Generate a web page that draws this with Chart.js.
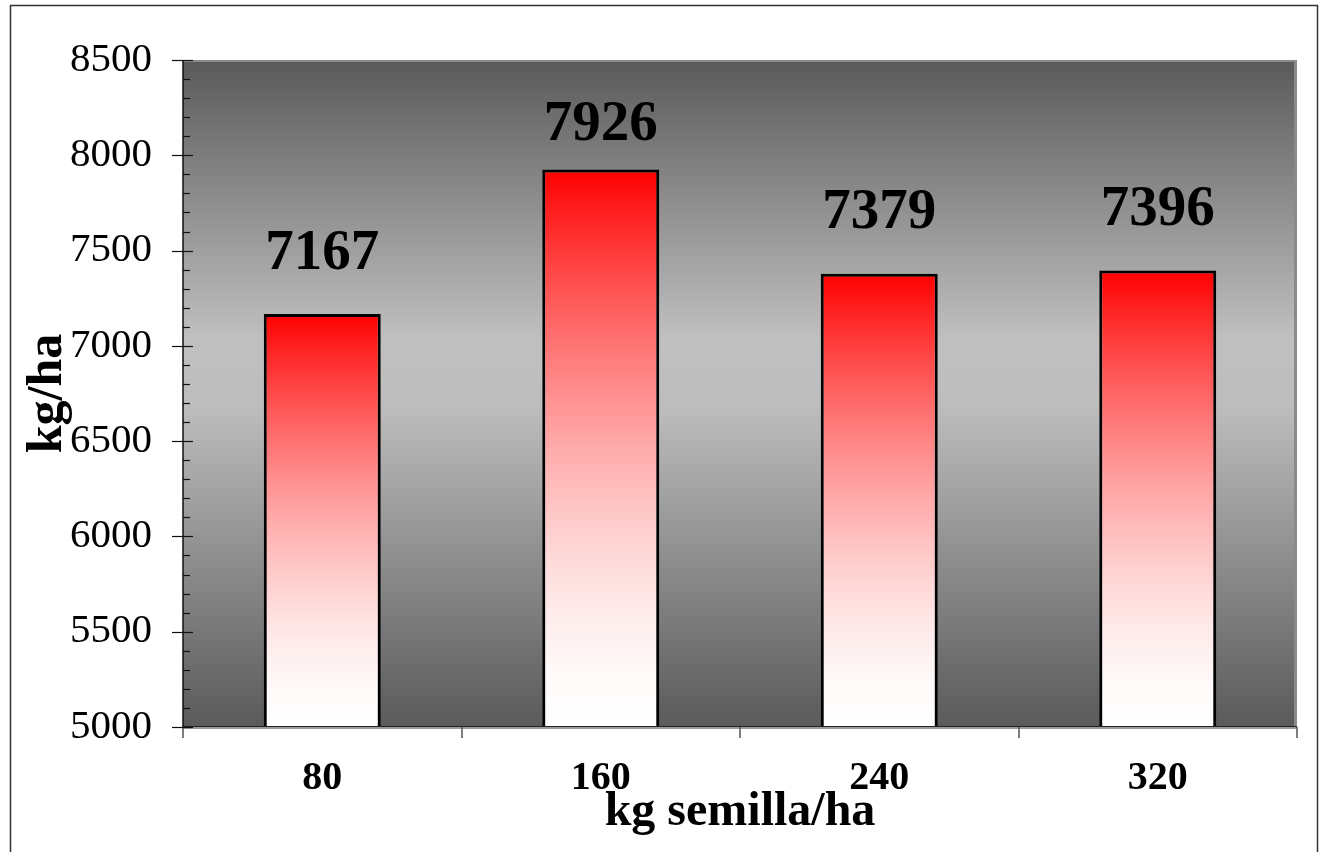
<!DOCTYPE html>
<html>
<head>
<meta charset="utf-8">
<style>
  html, body { margin: 0; padding: 0; background: #ffffff; }
  #wrap { width: 1319px; height: 852px; }
</style>
<script src="https://cdn.jsdelivr.net/npm/chart.js@4.4.1/dist/chart.umd.min.js"></script>
</head>
<body>
<div id="wrap"><canvas id="chart" width="1319" height="852"></canvas></div>
<script>
// Grain yield by seeding rate
const categories = ['80', '160', '240', '320'];
const yieldValues = [7167, 7926, 7379, 7396];
const yMin = 5000;
const yMax = 8500;
const yMajorStep = 500;
const yMinorStep = 100;
const xTitleText = 'kg semilla/ha';
const yTitleText = 'kg/ha';

const SERIF = '"Liberation Serif", "Times New Roman", serif';

// Red-to-white vertical fill for each bar, spanning the bar's own height;
// the red fades quickly, so the lower part of each bar is nearly white
function barFill(ctx) {
  const chart = ctx.chart;
  if (!chart.chartArea || ctx.type !== 'data') return '#ff0000';
  const ys = chart.scales.y;
  const top = ys.getPixelForValue(ctx.raw);
  const bottom = ys.getPixelForValue(ys.min);
  const g = chart.ctx.createLinearGradient(0, top, 0, bottom);
  for (let s = 0; s <= 10; s++) {
    const t = s / 10;
    const c = Math.round(255 * (1 - Math.pow(1 - t, 1.6)));
    g.addColorStop(t, `rgb(255,${c},${c})`);
  }
  return g;
}

// Page frame and shaded plot area behind everything
const backdrop = {
  id: 'backdrop',
  beforeDraw(chart) {
    const { ctx, chartArea: a, width, height } = chart;
    ctx.save();
    ctx.fillStyle = '#ffffff';
    ctx.fillRect(0, 0, width, height);
    ctx.strokeStyle = '#333333';
    ctx.lineWidth = 1.5;
    ctx.strokeRect(10.5, 5.5, width - 12, height + 20);
    const g = ctx.createLinearGradient(0, a.top, 0, a.bottom);
    g.addColorStop(0, '#5a5a5a');
    g.addColorStop(0.42, '#c0c0c0');
    g.addColorStop(0.52, '#bdbdbd');
    g.addColorStop(1, '#5a5a5a');
    ctx.fillStyle = g;
    ctx.fillRect(a.left, a.top, a.right - a.left, a.bottom - a.top);
    ctx.restore();
  }
};

// Axis lines, tick marks and the value labels above the bars
const axesAndLabels = {
  id: 'axesAndLabels',
  afterDatasetsDraw(chart) {
    const { ctx, chartArea: a } = chart;
    const xs = chart.scales.x;
    const ys = chart.scales.y;
    ctx.save();

    // plot border (top and right)
    ctx.strokeStyle = '#8a8a8a';
    ctx.lineWidth = 2;
    ctx.beginPath();
    ctx.moveTo(a.left, a.top + 1);
    ctx.lineTo(a.right - 1, a.top + 1);
    ctx.stroke();
    ctx.lineWidth = 3;
    ctx.beginPath();
    ctx.moveTo(a.right - 1.5, a.top);
    ctx.lineTo(a.right - 1.5, a.bottom);
    ctx.stroke();

    // x axis line and category boundary ticks
    ctx.strokeStyle = '#9a9a9a';
    ctx.lineWidth = 2;
    ctx.beginPath();
    ctx.moveTo(a.left, a.bottom + 1);
    ctx.lineTo(a.right, a.bottom + 1);
    ctx.stroke();
    ctx.strokeStyle = '#222222';
    ctx.lineWidth = 1;
    ctx.beginPath();
    ctx.moveTo(a.left, a.bottom - 0.5);
    ctx.lineTo(a.right, a.bottom - 0.5);
    ctx.stroke();
    ctx.strokeStyle = '#555555';
    ctx.lineWidth = 1.5;
    for (let k = 0; k <= categories.length; k++) {
      const px = Math.round(xs.getPixelForValue(k - 0.5));
      ctx.beginPath();
      ctx.moveTo(px, a.bottom);
      ctx.lineTo(px, a.bottom + 11);
      ctx.stroke();
    }

    // y axis line with major and minor ticks
    ctx.strokeStyle = '#111111';
    ctx.lineWidth = 1.5;
    ctx.beginPath();
    ctx.moveTo(a.left, a.top);
    ctx.lineTo(a.left, a.bottom);
    ctx.stroke();
    ctx.lineWidth = 1.2;
    for (let v = yMin; v <= yMax; v += yMinorStep) {
      const py = Math.round(ys.getPixelForValue(v)) + 0.5;
      ctx.beginPath();
      if (v % yMajorStep === 0) {
        ctx.moveTo(a.left - 11, py);
        ctx.lineTo(a.left + 10, py);
      } else {
        ctx.moveTo(a.left, py);
        ctx.lineTo(a.left + 7, py);
      }
      ctx.stroke();
    }

    // value labels
    ctx.fillStyle = '#000000';
    ctx.font = 'bold 57px ' + SERIF;
    ctx.textAlign = 'center';
    ctx.textBaseline = 'middle';
    const meta = chart.getDatasetMeta(0);
    meta.data.forEach((bar, i) => {
      const cy = Math.max(bar.y - 60, a.top + 65);
      ctx.fillText(String(yieldValues[i]), bar.x, cy);
    });
    ctx.restore();
  }
};

new Chart(document.getElementById('chart'), {
  type: 'bar',
  data: {
    labels: categories,
    datasets: [{
      data: yieldValues,
      backgroundColor: barFill,
      borderColor: '#000000',
      borderWidth: 3,
      borderSkipped: false,
      barPercentage: 0.42,
      categoryPercentage: 1
    }]
  },
  options: {
    responsive: false,
    animation: false,
    devicePixelRatio: 1,
    layout: { padding: { left: 0, top: 60, right: 22, bottom: 0 } },
    plugins: {
      legend: { display: false },
      tooltip: { enabled: false }
    },
    scales: {
      x: {
        offset: true,
        afterFit(scale) { scale.height = 125; },
        grid: { display: false, drawTicks: false, tickLength: 0 },
        border: { display: false },
        ticks: {
          color: '#000000',
          padding: 28,
          font: { family: SERIF, size: 40, weight: 'bold' }
        },
        title: {
          display: true,
          text: xTitleText,
          color: '#000000',
          padding: { top: 0, bottom: 15 },
          font: { family: SERIF, size: 48, weight: 'bold', lineHeight: 1 }
        }
      },
      y: {
        min: yMin,
        max: yMax,
        afterFit(scale) { scale.width = 183; },
        grid: { display: false, drawTicks: false, tickLength: 0 },
        border: { display: false },
        ticks: {
          stepSize: yMajorStep,
          color: '#000000',
          padding: 31,
          font: { family: SERIF, size: 41 },
          callback: (v) => String(v)
        },
        title: {
          display: true,
          text: yTitleText,
          color: '#000000',
          padding: { top: 23, bottom: 0 },
          font: { family: SERIF, size: 50, weight: 'bold', lineHeight: 1 }
        }
      }
    }
  },
  plugins: [backdrop, axesAndLabels]
});
</script>
</body>
</html>
